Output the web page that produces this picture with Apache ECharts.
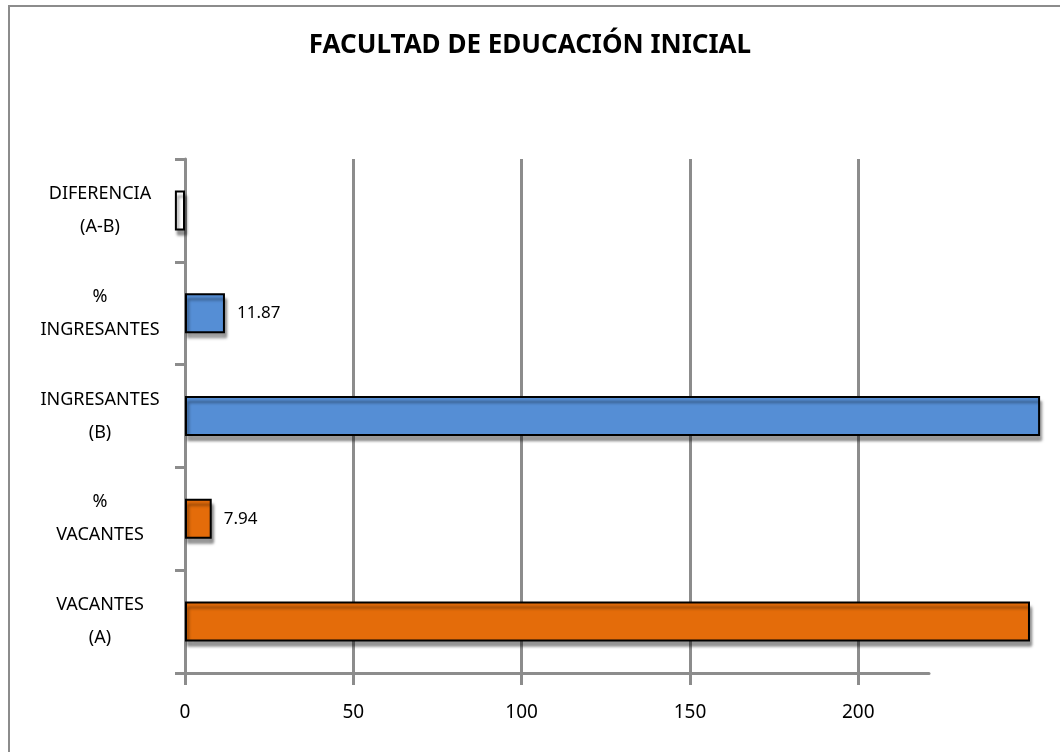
<!DOCTYPE html>
<html>
<head>
<meta charset="utf-8">
<script src="https://cdn.jsdelivr.net/npm/echarts@6/dist/echarts.min.js"></script>
<style>
  html, body { margin: 0; padding: 0; background: #fff; }
  #chart { width: 1060px; height: 752px; }
</style>
</head>
<body>
<div id="chart"></div>
<script>
// categories, bottom to top
const categories = ['VACANTES\n(A)', '%\nVACANTES', 'INGRESANTES\n(B)', '%\nINGRESANTES', 'DIFERENCIA\n(A-B)']
const values = [251, 7.94, 254, 11.87, -3]
const barColors = ['#E46C0A', '#E46C0A', '#558ED5', '#558ED5', '#ffffff']
const showLabel = [false, true, false, true, false]
const xTicks = [0, 50, 100, 150, 200]

const gridGrey = '#8c8c8c'
const font = 'Noto Sans'

const chart = echarts.init(document.getElementById('chart'))

const option = {
  animation: false,
  textStyle: { fontFamily: font },
  title: {
    text: 'FACULTAD DE EDUCACIÓN INICIAL',
    left: 'center',
    top: 28,
    textStyle: { fontFamily: font, fontSize: 26, fontWeight: 'bold', color: '#000' }
  },
  graphic: [{
    type: 'rect',
    shape: { x: 9, y: 6, width: 1100, height: 800 },
    style: { fill: 'none', stroke: gridGrey, lineWidth: 2 }
  }],
  grid: { left: 185, right: 131, top: 159, bottom: 79 },
  xAxis: {
    type: 'value',
    min: 0,
    max: 221,
    interval: 50,
    axisLine: { show: true, lineStyle: { color: gridGrey, width: 3 } },
    axisTick: { show: true, length: 12, customValues: xTicks, lineStyle: { color: gridGrey, width: 3 } },
    axisLabel: { customValues: xTicks, margin: 30, color: '#000', fontSize: 19, fontFamily: font },
    splitLine: { show: false }
  },
  yAxis: {
    type: 'category',
    data: categories,
    axisLine: { show: true, onZero: false, lineStyle: { color: gridGrey, width: 3 } },
    axisTick: { show: true, length: 10, lineStyle: { color: gridGrey, width: 3 } },
    axisLabel: {
      align: 'center',
      margin: 85,
      lineHeight: 33,
      color: '#000',
      fontSize: 18,
      fontFamily: font
    }
  },
  series: [{
    type: 'bar',
    clip: false,
    barWidth: 40,
    data: values.map((v, i) => ({
      value: v,
      itemStyle: { color: barColors[i] },
      label: { show: showLabel[i] }
    })),
    itemStyle: {
      borderColor: '#000',
      borderWidth: 2,
      shadowColor: 'rgba(0,0,0,0.4)',
      shadowBlur: 3,
      shadowOffsetX: 2,
      shadowOffsetY: 5
    },
    label: {
      position: 'right',
      distance: 12,
      color: '#000',
      fontSize: 17,
      fontFamily: font
    },
    markLine: {
      silent: true,
      symbol: 'none',
      z: 1,
      label: { show: false },
      lineStyle: { color: gridGrey, width: 3, type: 'solid' },
      data: xTicks.slice(1).map(v => ({ xAxis: v }))
    }
  }]
}

chart.setOption(option)
</script>
</body>
</html>
